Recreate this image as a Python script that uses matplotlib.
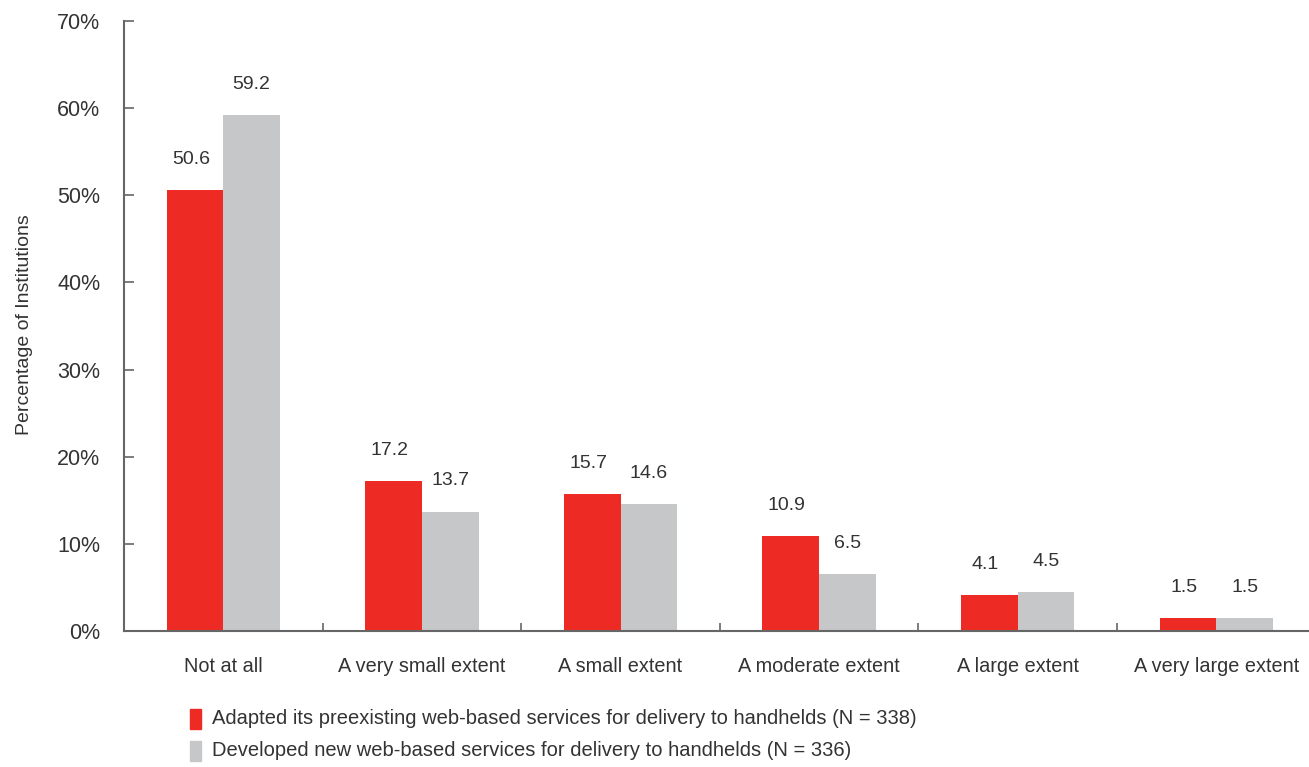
import matplotlib
matplotlib.use("Agg")
import matplotlib.pyplot as plt
import numpy as np
from matplotlib.patches import Rectangle

categories = ["Not at all", "A very small extent", "A small extent",
              "A moderate extent", "A large extent", "A very large extent"]
adapted = [50.6, 17.2, 15.7, 10.9, 4.1, 1.5]
developed = [59.2, 13.7, 14.6, 6.5, 4.5, 1.5]
series_labels = ["Adapted its preexisting web-based services for delivery to handhelds (N = 338)",
                 "Developed new web-based services for delivery to handhelds (N = 336)"]
yticks = [0, 10, 20, 30, 40, 50, 60, 70]

RED = "#EE2A24"
GREY = "#C6C7C9"
TXT = "#333333"

plt.rcParams['font.family'] = ['Liberation Sans', 'DejaVu Sans']

W, H = 1309, 767
fig = plt.figure(figsize=(W/100, H/100), dpi=100)
ax = fig.add_axes([124/W, 1-631/H, (W-124)/W, (631-21)/H])

x = np.arange(len(categories))
bw = 0.285
ax.bar(x - bw/2, adapted, bw, color=RED, zorder=2)
ax.bar(x + bw/2, developed, bw, color=GREY, zorder=2)

for xi, v in zip(x, adapted):
    ax.annotate(f"{v:.1f}", (xi - bw/2 - 0.02, v), xytext=(0, 16), textcoords="offset points",
                ha="center", va="bottom", fontsize=14, color=TXT)
for xi, v in zip(x, developed):
    ax.annotate(f"{v:.1f}", (xi + bw/2, v), xytext=(0, 16), textcoords="offset points",
                ha="center", va="bottom", fontsize=14, color=TXT)

ax.set_xlim(-0.5, (W-124)/198.6 - 0.5)
ax.set_ylim(0, 70)
ax.set_yticks(yticks)
ax.set_yticklabels([f"{t}%" for t in yticks], fontsize=15.5, color=TXT)
ax.set_xticks(x)
ax.set_xticklabels(categories, fontsize=14.3, color=TXT)
ax.tick_params(axis='x', length=0, pad=19)
ax.set_xticks(x[:-1] + 0.5, minor=True)
ax.tick_params(axis='x', which='minor', direction='in', length=6, color="#666666", width=1.2)
ax.tick_params(axis='y', direction='in', length=7, color="#666666", width=1.2, pad=17)

for s in ["top", "right"]:
    ax.spines[s].set_visible(False)
for s in ["left", "bottom"]:
    ax.spines[s].set_color("#666666")
    ax.spines[s].set_linewidth(1.5)

fig.text(25/W, 1-325/H, "Percentage of Institutions", rotation=90, ha="center", va="center",
         fontsize=14, color=TXT)

# legend
for i, (c, lab) in enumerate(zip([RED, GREY], series_labels)):
    yc = 719 + i*32
    fig.patches.append(Rectangle((190/W, 1-(yc+10)/H), 11/W, 20/H, transform=fig.transFigure,
                                 color=c, figure=fig))
    fig.text(212/W, 1-yc/H, lab, ha="left", va="center", fontsize=14.5, color=TXT)

fig.savefig("out.png", dpi=100)
